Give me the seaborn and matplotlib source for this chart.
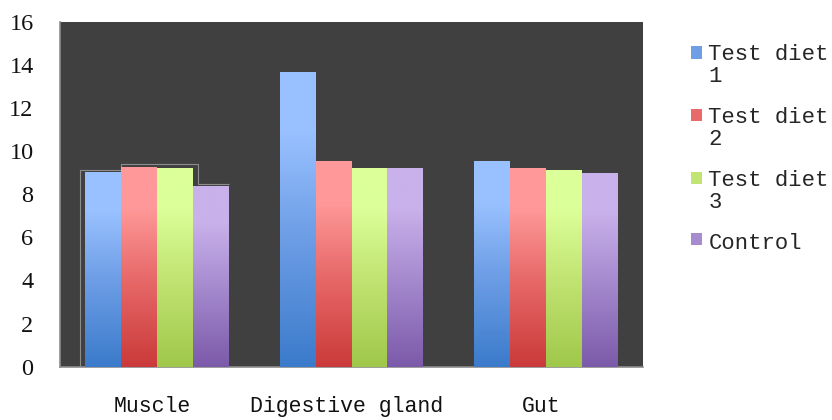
import numpy as np
import pandas as pd
import matplotlib
matplotlib.use("Agg")
import matplotlib.pyplot as plt
import matplotlib.transforms as mtransforms
import seaborn as sns
from matplotlib.colors import LinearSegmentedColormap
from matplotlib.patches import Patch, PathPatch, Rectangle
from matplotlib.path import Path
from matplotlib.legend_handler import HandlerPatch

# Values per tissue for each diet
tissues = ["Muscle", "Digestive gland", "Gut"]
diets = ["Test diet 1", "Test diet 2", "Test diet 3", "Control"]
legend_labels = ["Test diet\n1", "Test diet\n2", "Test diet\n3", "Control"]
test_diet_1 = [9.04, 13.65, 9.54]
test_diet_2 = [9.25, 9.54, 9.20]
test_diet_3 = [9.22, 9.20, 9.12]
control = [8.38, 9.20, 8.97]
y_ticks = [0, 2, 4, 6, 8, 10, 12, 14, 16]

top_colors = ["#99C1FF", "#FF9999", "#DCFF99", "#C9B1EB"]
mid_colors = ["#6E9EE6", "#E86A6A", "#C2E473", "#A68BCF"]
bottom_colors = ["#3B7BCB", "#CB3A3A", "#A0C84A", "#7C5AAA"]

df = pd.DataFrame({
    "tissue": tissues * 4,
    "diet": np.repeat(diets, 3),
    "value": test_diet_1 + test_diet_2 + test_diet_3 + control,
})

sns.set_style("white")
plt.rcParams["font.family"] = ["Liberation Mono", "DejaVu Sans"]

fig = plt.figure(figsize=(8.32, 4.2), dpi=100)
ax = fig.add_axes([60 / 832, (420 - 366.7) / 420, (643 - 60) / 832, (366.7 - 21.7) / 420])
ax.set_facecolor("#404040")

sns.barplot(data=df, x="tissue", y="value", hue="diet", order=tissues,
            hue_order=diets, palette=mid_colors, width=0.74, gap=0,
            linewidth=0, legend=False, ax=ax)

# Vertical gradient fill for every bar, clipped to the bar rectangle
grad = np.linspace(0, 1, 256).reshape(-1, 1)
for i, cont in enumerate(ax.containers):
    cmap = LinearSegmentedColormap.from_list(
        f"grad{i}", [(0, bottom_colors[i]), (0.45, mid_colors[i]),
                     (0.8, top_colors[i]), (1, top_colors[i])])
    for bar in cont:
        x0, y0 = bar.get_x(), bar.get_y()
        w, h = bar.get_width(), bar.get_height()
        im = ax.imshow(grad, cmap=cmap, origin="lower", aspect="auto",
                       extent=(x0, x0 + w, y0, y0 + h), zorder=3,
                       interpolation="bilinear")
        im.set_clip_path(bar)

# Thin outline around the Muscle group
bars = [cont[0] for cont in ax.containers]
dx, dy = 0.026, 0.09
tops = [b.get_height() for b in bars]
lefts = [b.get_x() for b in bars]
rights = [b.get_x() + b.get_width() for b in bars]
verts = [
    (lefts[0] - dx, 0),
    (lefts[0] - dx, tops[0] + dy),
    (lefts[1], tops[0] + dy),
    (lefts[1], max(tops[1], tops[2]) + dy * 1.5),
    (rights[2] + dx, max(tops[1], tops[2]) + dy * 1.5),
    (rights[2] + dx, tops[3] + dy),
    (rights[3], tops[3] + dy),
]
ax.add_patch(PathPatch(Path(verts), fill=False, edgecolor="#8c8c8c",
                       linewidth=0.8, zorder=2.5, joinstyle="round"))

ax.set_xlim(-0.5, 2.5)
ax.set_ylim(0, 16)
ax.set_yticks(y_ticks)
ax.set_yticklabels([str(t) for t in y_ticks], family="Liberation Serif", fontsize=17.5)
ax.set_xticks([0, 1, 2])
ax.set_xticklabels(tissues, fontsize=15.5)
ax.set_xticks([-0.5, 0.5, 1.5, 2.5], minor=True)
ax.tick_params(axis="x", which="major", length=0, pad=21, colors="#111111")
ax.tick_params(axis="x", which="minor", length=5, width=1.2, color="#8c8c8c", direction="out")
ax.tick_params(axis="y", length=5, width=1.2, color="#8c8c8c", direction="out", pad=14,
               labelcolor="#111111")
ax.set_xlabel("")
ax.set_ylabel("")

# Category labels sit slightly left of the group centres
label_shift = mtransforms.ScaledTranslation(-5 / 100, 0, fig.dpi_scale_trans)
for lab in ax.get_xticklabels():
    lab.set_transform(lab.get_transform() + label_shift)

for side in ["top", "right"]:
    ax.spines[side].set_visible(False)
for side in ["left", "bottom"]:
    ax.spines[side].set_color("#8c8c8c")
    ax.spines[side].set_linewidth(1.2)


def square_at_first_line(shift):
    def make(legend, orig_handle, xdescent, ydescent, width, height, fontsize):
        return Rectangle((-xdescent, -ydescent + shift), width, height)
    return HandlerPatch(patch_func=make)


leg_fs = 16
line_spacing = 1.08
handles = [Patch(facecolor=c, edgecolor="none") for c in mid_colors]
handler_map = {
    h: square_at_first_line(0.5 * line_spacing * leg_fs * lab.count("\n") + 1.0)
    for h, lab in zip(handles, legend_labels)
}
leg = fig.legend(handles, legend_labels, loc="upper left",
                 bbox_to_anchor=(691 / 832, 1 - 44 / 420), frameon=False,
                 fontsize=leg_fs, handlelength=0.48, handleheight=0.48,
                 handletextpad=0.3, labelspacing=0.88, borderaxespad=0,
                 borderpad=0, handler_map=handler_map)
for t in leg.get_texts():
    t.set_linespacing(line_spacing)

fig.savefig("out.png", dpi=100, facecolor="white")
